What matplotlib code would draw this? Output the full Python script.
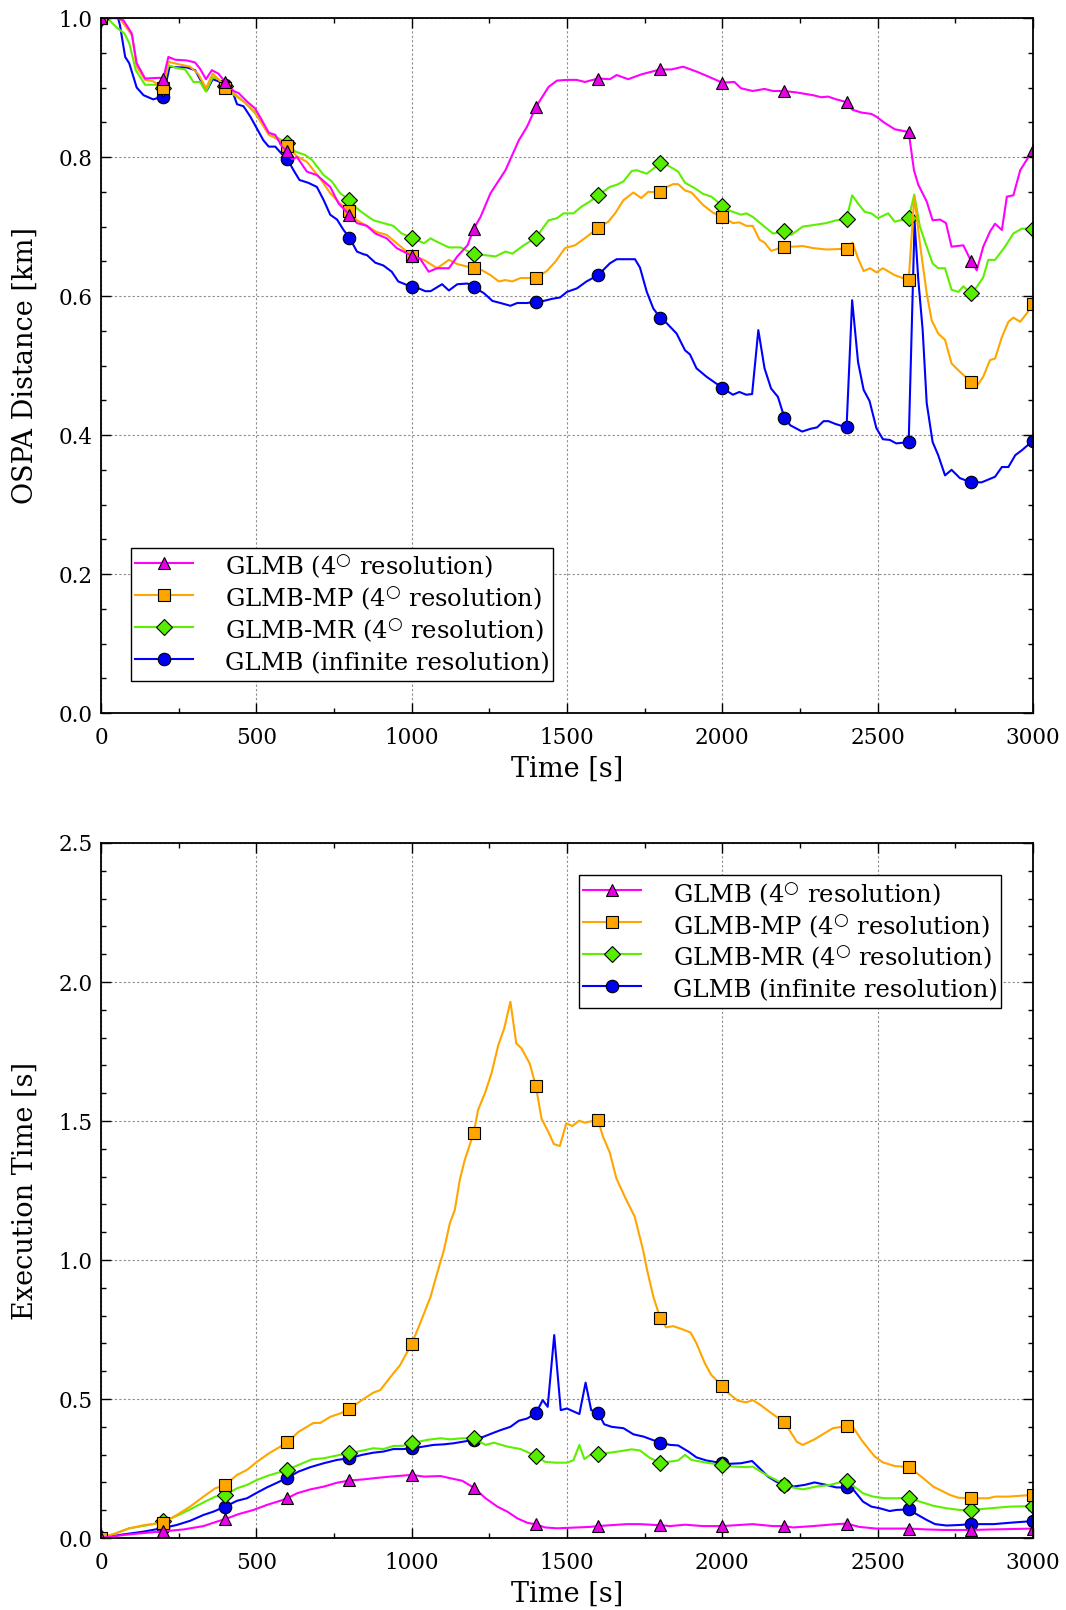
import numpy as np
import matplotlib
matplotlib.use("Agg")
import matplotlib.pyplot as plt

plt.rcParams['font.family'] = ['DejaVu Serif']
plt.rcParams['mathtext.fontset'] = 'dejavuserif'

#########
# DATA (time in s)
#########

# --- OSPA distance [km] ---
ospa_glmb4_t = [0, 50, 72, 99, 115, 142, 190, 200, 217, 239, 276, 303, 319, 338, 357, 378, 400, 427, 443, 470,
                496, 518, 540, 561, 583, 600, 615, 631, 663, 695, 738, 765, 800, 824, 856, 883, 920, 952, 1000,
                1027, 1055, 1082, 1120, 1147, 1180, 1200, 1222, 1254, 1302, 1345, 1372, 1400, 1441, 1468, 1500,
                1531, 1558, 1600, 1638, 1660, 1697, 1740, 1800, 1836, 1874, 1917, 1954, 2000, 2039, 2060, 2098,
                2136, 2163, 2200, 2238, 2292, 2319, 2340, 2367, 2400, 2419, 2448, 2480, 2496, 2523, 2555, 2600,
                2617, 2631, 2658, 2677, 2701, 2720, 2738, 2776, 2800, 2819, 2840, 2862, 2878, 2900, 2916, 2937,
                2959, 2980, 3000]
ospa_glmb4_v = [1.0, 1.0, 0.997, 0.978, 0.935, 0.913, 0.914, 0.912, 0.944, 0.940, 0.939, 0.936, 0.927, 0.912,
                0.925, 0.920, 0.908, 0.895, 0.892, 0.880, 0.870, 0.853, 0.835, 0.832, 0.815, 0.808, 0.797, 0.800,
                0.779, 0.774, 0.757, 0.733, 0.717, 0.705, 0.701, 0.690, 0.683, 0.669, 0.658, 0.654, 0.635, 0.640,
                0.640, 0.657, 0.673, 0.697, 0.714, 0.748, 0.781, 0.824, 0.844, 0.872, 0.901, 0.910, 0.911, 0.911,
                0.908, 0.913, 0.912, 0.918, 0.912, 0.919, 0.926, 0.926, 0.930, 0.923, 0.916, 0.907, 0.908, 0.899,
                0.895, 0.898, 0.895, 0.895, 0.893, 0.889, 0.886, 0.887, 0.883, 0.879, 0.868, 0.864, 0.862, 0.858,
                0.849, 0.840, 0.836, 0.781, 0.760, 0.736, 0.709, 0.710, 0.705, 0.671, 0.673, 0.651, 0.637, 0.671,
                0.693, 0.704, 0.695, 0.743, 0.745, 0.781, 0.796, 0.810]

ospa_mp_t = [0, 60, 100, 115, 142, 168, 200, 217, 255, 287, 314, 338, 360, 378, 400, 427, 459, 496, 518, 540,
             567, 600, 631, 663, 706, 738, 770, 800, 824, 856, 888, 920, 952, 1000, 1040, 1082, 1120, 1147, 1200,
             1227, 1254, 1281, 1302, 1324, 1351, 1400, 1435, 1462, 1494, 1526, 1563, 1600, 1633, 1655, 1682, 1714,
             1739, 1762, 1800, 1821, 1842, 1858, 1880, 1901, 1938, 1970, 2000, 2034, 2055, 2077, 2098, 2120, 2136,
             2157, 2200, 2227, 2259, 2292, 2335, 2400, 2419, 2437, 2455, 2476, 2496, 2517, 2555, 2600, 2618, 2636,
             2658, 2674, 2695, 2717, 2738, 2765, 2800, 2819, 2840, 2862, 2878, 2900, 2921, 2937, 2959, 2980, 3000]
ospa_mp_v = [1.0, 1.0, 0.975, 0.930, 0.911, 0.909, 0.899, 0.937, 0.933, 0.930, 0.919, 0.899, 0.920, 0.912,
             0.900, 0.892, 0.880, 0.865, 0.848, 0.832, 0.826, 0.816, 0.801, 0.793, 0.769, 0.748, 0.733, 0.722,
             0.709, 0.701, 0.692, 0.688, 0.676, 0.658, 0.652, 0.640, 0.652, 0.646, 0.640, 0.637, 0.630, 0.621,
             0.623, 0.621, 0.626, 0.626, 0.636, 0.649, 0.669, 0.673, 0.685, 0.698, 0.707, 0.719, 0.738, 0.749,
             0.741, 0.750, 0.749, 0.757, 0.761, 0.761, 0.752, 0.749, 0.731, 0.720, 0.714, 0.705, 0.706, 0.701,
             0.701, 0.681, 0.677, 0.665, 0.671, 0.671, 0.672, 0.669, 0.667, 0.668, 0.677, 0.654, 0.636, 0.640,
             0.634, 0.640, 0.630, 0.623, 0.743, 0.676, 0.604, 0.565, 0.546, 0.537, 0.503, 0.491, 0.477, 0.470,
             0.484, 0.508, 0.510, 0.541, 0.563, 0.569, 0.563, 0.575, 0.588]

ospa_mr_t = [0, 20, 54, 75, 91, 112, 142, 175, 200, 217, 244, 271, 298, 319, 338, 360, 378, 400, 427, 465, 496,
             518, 540, 567, 600, 625, 657, 679, 717, 743, 770, 800, 824, 851, 877, 909, 941, 968, 1000, 1020, 1040,
             1061, 1082, 1120, 1158, 1200, 1233, 1270, 1302, 1324, 1361, 1400, 1441, 1468, 1489, 1521, 1548, 1574,
             1600, 1638, 1660, 1682, 1709, 1725, 1757, 1800, 1821, 1858, 1880, 1912, 1938, 1965, 2000, 2023, 2060,
             2077, 2098, 2130, 2163, 2200, 2222, 2259, 2292, 2335, 2367, 2400, 2418, 2437, 2459, 2480, 2501, 2534,
             2555, 2600, 2618, 2636, 2658, 2677, 2695, 2717, 2738, 2760, 2776, 2800, 2819, 2840, 2856, 2878, 2910,
             2937, 2964, 3000]
ospa_mr_v = [1.0, 1.0, 0.985, 0.978, 0.964, 0.925, 0.904, 0.904, 0.899, 0.932, 0.928, 0.926, 0.908, 0.908,
             0.894, 0.915, 0.912, 0.902, 0.890, 0.878, 0.863, 0.849, 0.834, 0.828, 0.820, 0.808, 0.803, 0.796,
             0.774, 0.765, 0.748, 0.738, 0.726, 0.717, 0.709, 0.705, 0.701, 0.690, 0.684, 0.680, 0.676, 0.683,
             0.678, 0.670, 0.670, 0.660, 0.659, 0.657, 0.664, 0.661, 0.673, 0.684, 0.709, 0.712, 0.719, 0.719,
             0.729, 0.736, 0.745, 0.757, 0.760, 0.765, 0.780, 0.781, 0.776, 0.791, 0.789, 0.779, 0.763, 0.755,
             0.747, 0.743, 0.730, 0.723, 0.717, 0.719, 0.714, 0.702, 0.690, 0.693, 0.688, 0.700, 0.702, 0.705,
             0.709, 0.711, 0.745, 0.733, 0.721, 0.719, 0.712, 0.719, 0.707, 0.712, 0.746, 0.700, 0.671, 0.647,
             0.640, 0.640, 0.609, 0.606, 0.614, 0.604, 0.613, 0.627, 0.652, 0.652, 0.671, 0.690, 0.697, 0.697]

ospa_inf_t = [0, 55, 61, 78, 91, 115, 137, 168, 200, 221, 250, 276, 303, 324, 341, 360, 378, 400, 422, 438, 459,
              481, 502, 523, 540, 561, 583, 600, 620, 639, 667, 695, 717, 738, 760, 781, 800, 824, 846, 856, 883,
              909, 936, 957, 979, 1000, 1023, 1044, 1061, 1098, 1120, 1147, 1180, 1200, 1233, 1260, 1286, 1318,
              1340, 1372, 1400, 1425, 1452, 1478, 1500, 1532, 1563, 1600, 1638, 1660, 1682, 1719, 1735, 1757, 1778,
              1800, 1821, 1853, 1880, 1896, 1917, 1949, 2000, 2034, 2055, 2077, 2096, 2116, 2136, 2157, 2179, 2200,
              2219, 2257, 2284, 2305, 2326, 2342, 2364, 2400, 2418, 2437, 2455, 2474, 2496, 2517, 2539, 2560, 2582,
              2600, 2619, 2631, 2645, 2658, 2677, 2695, 2717, 2738, 2765, 2800, 2835, 2878, 2900, 2921, 2943, 2964,
              3000]
ospa_inf_v = [1.0, 1.0, 0.990, 0.944, 0.935, 0.900, 0.889, 0.883, 0.887, 0.930, 0.929, 0.929, 0.925, 0.908,
              0.896, 0.912, 0.909, 0.903, 0.896, 0.876, 0.873, 0.858, 0.841, 0.824, 0.815, 0.815, 0.804, 0.797,
              0.781, 0.767, 0.763, 0.757, 0.738, 0.717, 0.710, 0.695, 0.684, 0.664, 0.660, 0.659, 0.648, 0.644,
              0.635, 0.621, 0.617, 0.613, 0.611, 0.607, 0.607, 0.617, 0.608, 0.617, 0.618, 0.613, 0.604, 0.593,
              0.590, 0.586, 0.590, 0.590, 0.592, 0.593, 0.596, 0.598, 0.606, 0.611, 0.621, 0.630, 0.647, 0.653,
              0.653, 0.653, 0.641, 0.606, 0.582, 0.569, 0.561, 0.546, 0.522, 0.516, 0.496, 0.484, 0.468, 0.458,
              0.462, 0.458, 0.459, 0.551, 0.496, 0.467, 0.455, 0.425, 0.414, 0.405, 0.409, 0.411, 0.420, 0.420,
              0.416, 0.411, 0.594, 0.505, 0.465, 0.449, 0.410, 0.394, 0.393, 0.388, 0.389, 0.390, 0.707, 0.623,
              0.551, 0.446, 0.390, 0.371, 0.342, 0.350, 0.338, 0.332, 0.332, 0.340, 0.354, 0.354, 0.371, 0.378,
              0.392]

# --- execution time [s] ---
exec_glmb4_t = [0, 72, 137, 200, 266, 330, 373, 400, 443, 491, 534, 577, 600, 631, 674, 717, 760, 800, 846, 877,
                931, 1000, 1040, 1093, 1125, 1163, 1200, 1238, 1276, 1308, 1340, 1372, 1400, 1430, 1468, 1511,
                1574, 1600, 1692, 1735, 1800, 1832, 1880, 1938, 2000, 2098, 2163, 2200, 2227, 2292, 2367, 2400,
                2441, 2496, 2600, 2658, 2712, 2800, 2873, 3000]
exec_glmb4_v = [0.0, 0.011, 0.018, 0.024, 0.031, 0.043, 0.059, 0.068, 0.086, 0.101, 0.119, 0.134, 0.143, 0.161,
                0.175, 0.185, 0.199, 0.207, 0.211, 0.215, 0.221, 0.227, 0.221, 0.223, 0.215, 0.206, 0.181, 0.143,
                0.113, 0.095, 0.071, 0.055, 0.049, 0.038, 0.035, 0.037, 0.040, 0.043, 0.050, 0.050, 0.046, 0.043,
                0.048, 0.043, 0.043, 0.050, 0.043, 0.043, 0.038, 0.043, 0.050, 0.052, 0.040, 0.034, 0.034, 0.031,
                0.029, 0.029, 0.031, 0.034]

exec_mp_t = [0, 43, 91, 142, 200, 244, 287, 330, 368, 400, 438, 470, 502, 540, 567, 600, 636, 663, 684, 706, 738,
             770, 800, 824, 856, 877, 899, 920, 941, 963, 1000, 1023, 1040, 1061, 1082, 1104, 1123, 1139, 1155,
             1171, 1200, 1214, 1236, 1257, 1279, 1298, 1318, 1337, 1354, 1380, 1400, 1418, 1440, 1458, 1477, 1498,
             1517, 1539, 1557, 1600, 1616, 1638, 1659, 1686, 1718, 1745, 1758, 1778, 1800, 1819, 1842, 1869, 1898,
             1917, 1944, 1965, 2000, 2023, 2050, 2077, 2098, 2120, 2152, 2200, 2216, 2240, 2259, 2297, 2329, 2356,
             2400, 2421, 2448, 2469, 2491, 2517, 2555, 2600, 2620, 2647, 2679, 2706, 2733, 2760, 2800, 2829, 2856,
             2878, 2921, 2959, 3000]
exec_mp_v = [0.0, 0.015, 0.035, 0.047, 0.055, 0.083, 0.113, 0.149, 0.179, 0.191, 0.227, 0.245, 0.274, 0.304,
             0.322, 0.344, 0.382, 0.400, 0.414, 0.414, 0.436, 0.448, 0.463, 0.484, 0.508, 0.523, 0.532, 0.562,
             0.592, 0.622, 0.698, 0.760, 0.808, 0.868, 0.952, 1.036, 1.132, 1.180, 1.288, 1.360, 1.458, 1.540,
             1.600, 1.671, 1.773, 1.833, 1.929, 1.779, 1.761, 1.707, 1.626, 1.509, 1.461, 1.417, 1.410, 1.492,
             1.482, 1.501, 1.494, 1.504, 1.444, 1.386, 1.294, 1.228, 1.156, 1.036, 0.964, 0.868, 0.792, 0.758,
             0.762, 0.752, 0.739, 0.700, 0.628, 0.586, 0.547, 0.518, 0.494, 0.488, 0.496, 0.481, 0.454, 0.416,
             0.388, 0.346, 0.335, 0.355, 0.377, 0.395, 0.403, 0.398, 0.353, 0.323, 0.293, 0.272, 0.259, 0.255,
             0.239, 0.215, 0.185, 0.170, 0.155, 0.145, 0.143, 0.143, 0.143, 0.149, 0.149, 0.152, 0.155]

exec_mr_t = [0, 48, 91, 123, 168, 200, 239, 287, 335, 368, 400, 438, 470, 502, 534, 567, 600, 636, 679, 717, 760,
             800, 835, 877, 909, 941, 973, 1000, 1050, 1093, 1125, 1163, 1200, 1238, 1265, 1308, 1351, 1400, 1430,
             1462, 1500, 1521, 1540, 1556, 1575, 1600, 1638, 1670, 1708, 1735, 1767, 1800, 1832, 1858, 1880, 1901,
             1949, 2000, 2034, 2077, 2098, 2141, 2173, 2200, 2227, 2259, 2302, 2346, 2378, 2400, 2421, 2453, 2485,
             2523, 2560, 2600, 2636, 2679, 2722, 2765, 2800, 2862, 2926, 3000]
exec_mr_v = [0.0, 0.017, 0.035, 0.041, 0.050, 0.060, 0.077, 0.103, 0.131, 0.149, 0.155, 0.179, 0.191, 0.209,
             0.223, 0.234, 0.245, 0.263, 0.283, 0.287, 0.297, 0.305, 0.313, 0.323, 0.320, 0.331, 0.332, 0.341,
             0.353, 0.359, 0.355, 0.359, 0.359, 0.335, 0.343, 0.329, 0.320, 0.295, 0.274, 0.271, 0.271, 0.280,
             0.335, 0.284, 0.299, 0.302, 0.307, 0.312, 0.319, 0.315, 0.288, 0.271, 0.275, 0.279, 0.299, 0.281,
             0.271, 0.263, 0.257, 0.255, 0.257, 0.227, 0.209, 0.191, 0.182, 0.175, 0.185, 0.191, 0.200, 0.206,
             0.188, 0.161, 0.149, 0.143, 0.143, 0.145, 0.131, 0.116, 0.107, 0.101, 0.101, 0.107, 0.113, 0.115]

exec_inf_t = [0, 72, 137, 200, 244, 287, 330, 362, 400, 438, 470, 502, 534, 567, 600, 636, 674, 717, 760, 800,
              840, 877, 909, 941, 973, 1000, 1027, 1071, 1104, 1136, 1168, 1200, 1233, 1260, 1286, 1318, 1345, 1372,
              1400, 1422, 1438, 1459, 1480, 1500, 1540, 1560, 1578, 1600, 1620, 1644, 1682, 1714, 1746, 1800, 1832,
              1858, 1891, 1917, 1949, 2000, 2023, 2060, 2096, 2120, 2147, 2173, 2200, 2227, 2265, 2297, 2335, 2367,
              2400, 2421, 2453, 2480, 2507, 2539, 2560, 2600, 2625, 2658, 2685, 2722, 2765, 2800, 2873, 2926, 3000]
exec_inf_v = [0.0, 0.013, 0.023, 0.036, 0.047, 0.062, 0.083, 0.095, 0.113, 0.134, 0.143, 0.163, 0.182, 0.199,
              0.217, 0.239, 0.255, 0.269, 0.281, 0.287, 0.299, 0.307, 0.311, 0.320, 0.320, 0.323, 0.327, 0.335,
              0.337, 0.341, 0.347, 0.353, 0.365, 0.377, 0.388, 0.400, 0.422, 0.430, 0.449, 0.496, 0.472, 0.730,
              0.460, 0.466, 0.446, 0.559, 0.460, 0.451, 0.409, 0.400, 0.395, 0.373, 0.365, 0.343, 0.335, 0.333,
              0.311, 0.290, 0.279, 0.269, 0.267, 0.269, 0.277, 0.251, 0.221, 0.203, 0.191, 0.185, 0.191, 0.200,
              0.191, 0.182, 0.182, 0.175, 0.131, 0.113, 0.107, 0.097, 0.101, 0.103, 0.086, 0.065, 0.050, 0.045,
              0.047, 0.050, 0.050, 0.055, 0.061]

labels = [r'GLMB (4$^{\bigcirc}$ resolution)', r'GLMB-MP (4$^{\bigcirc}$ resolution)',
          r'GLMB-MR (4$^{\bigcirc}$ resolution)', 'GLMB (infinite resolution)']

#########
# STYLE
#########
line_cols = ['#FF00FF', '#FFA500', '#5CF000', '#0000FF']
face_cols = ['#E600E6', '#FFA500', '#55EE00', '#0000F0']
markers = ['^', 's', 'D', 'o']
msizes = [8.5, 8.5, 8.0, 9.0]


def draw_panel(ax, series, ymax, ymajor, yminor, ylabel, legend_loc, legend_anchor):
    handles = [None] * 4
    # blue drawn first, magenta last (on top)
    for i in [3, 2, 1, 0]:
        t, v = series[i]
        t = np.asarray(t)
        mev = list(t % 200 == 0)
        h, = ax.plot(t, v, color=line_cols[i], lw=1.5, marker=markers[i], ms=msizes[i],
                     mfc=face_cols[i], mec='black', mew=0.8, markevery=mev, label=labels[i])
        handles[i] = h
    ax.set_xlim(0, 3000)
    ax.set_ylim(0, ymax)
    ax.set_xticks(np.arange(0, 3001, 500))
    ax.set_xticks(np.arange(0, 3001, 250), minor=True)
    ax.set_yticks(np.arange(0, ymax + 1e-9, ymajor))
    ax.set_yticks(np.arange(0, ymax + 1e-9, yminor), minor=True)
    ax.yaxis.set_major_formatter(plt.FormatStrFormatter('%.1f'))
    ax.grid(True, which='major', color='#8c8c8c', ls=(0, (2, 2)), lw=0.8)
    ax.tick_params(which='both', direction='in', top=True, right=True, labelsize=15.5, width=1.0)
    ax.tick_params(which='major', length=7)
    ax.tick_params(which='minor', length=3.5)
    ax.tick_params(axis='x', which='major', pad=10)
    ax.tick_params(axis='y', which='major', pad=6)
    for s in ax.spines.values():
        s.set_linewidth(1.3)
    ax.set_xlabel('Time [s]', fontsize=19.5, labelpad=5)
    ax.set_ylabel(ylabel, fontsize=19.5, labelpad=14)
    # tall handle boxes give every row the same height (math rows are taller)
    leg = ax.legend(handles=handles, loc=legend_loc, bbox_to_anchor=legend_anchor, borderaxespad=0,
                    fontsize=17.5, fancybox=False, edgecolor='black', framealpha=1,
                    handlelength=2.4, handletextpad=1.3, handleheight=1.55, labelspacing=0.06,
                    borderpad=0.15)
    leg.get_frame().set_linewidth(1.0)


fig = plt.figure(figsize=(10.66, 16.10), dpi=100)
ax1 = fig.add_axes([0.0947, 0.5571, 0.8743, 0.4317])
ax2 = fig.add_axes([0.0947, 0.0447, 0.8743, 0.4317])

draw_panel(ax1,
           [(ospa_glmb4_t, ospa_glmb4_v), (ospa_mp_t, ospa_mp_v), (ospa_mr_t, ospa_mr_v), (ospa_inf_t, ospa_inf_v)],
           1.0, 0.2, 0.05, 'OSPA Distance [km]', 'lower left', (0.0327, 0.046))
draw_panel(ax2,
           [(exec_glmb4_t, exec_glmb4_v), (exec_mp_t, exec_mp_v), (exec_mr_t, exec_mr_v), (exec_inf_t, exec_inf_v)],
           2.5, 0.5, 0.1, 'Execution Time [s]', 'upper right', (0.9657, 0.954))

fig.savefig('out.png', dpi=100)
